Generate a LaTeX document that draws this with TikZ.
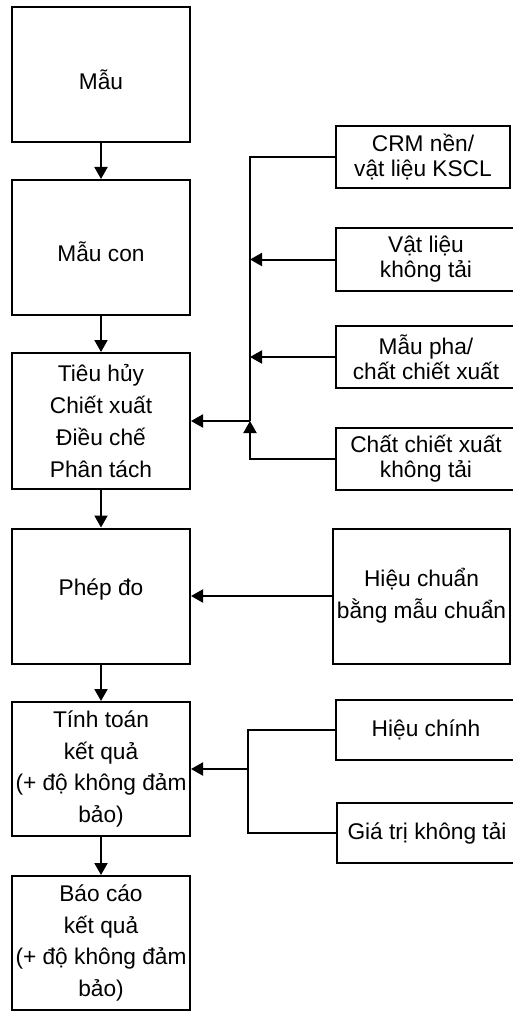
\documentclass[tikz,border=0pt]{standalone}
\usepackage{fontspec}
\setmainfont{Liberation Sans}
\usetikzlibrary{arrows.meta}
\newcommand\wideff{\fontsize{22.7}{31.7}\selectfont}
\newcommand\tightff{\fontsize{22.7}{25}\selectfont}
\newcommand\shiftv[2]{\raisebox{#1}[\height][\depth]{#2}}
\begin{document}
\begin{tikzpicture}[x=1pt,y=-1pt,
  box/.style={draw, line width=2pt, inner sep=0pt, align=center, font=\wideff},
  sbox/.style={box, font=\tightff},
  conn/.style={line width=2pt},
  arr/.style={conn, -{Triangle[width=13pt,length=12pt]}}]
\useasboundingbox (0,0) rectangle (512,1011);
% left column
\node[box, minimum width=178pt, minimum height=135pt] (mau) at (101,74.5) {\shiftv{-5pt}{Mẫu}};
\node[box, minimum width=178pt, minimum height=135pt] (maucon) at (101,247.5) {\shiftv{-4pt}{Mẫu con}};
\node[box, minimum width=178pt, minimum height=136pt] (tieuhuy) at (101,421) {Tiêu hủy\\Chiết xuất\\Điều chế\\Phân tách};
\node[box, minimum width=178pt, minimum height=135pt] (phepdo) at (101,596) {\shiftv{7pt}{Phép đo}};
\node[box, minimum width=178pt, minimum height=134pt] (tinhtoan) at (101,769) {Tính toán\\kết quả\\(+ độ không đảm\\bảo)};
\node[box, minimum width=178pt, minimum height=134pt] (baocao) at (101,943) {Báo cáo\\kết quả\\(+ độ không đảm\\bảo)};
% right column
\node[sbox, minimum width=174pt, minimum height=62pt] (crm) at (423,157) {CRM nền/\\vật liệu KSCL};
\node[sbox, minimum width=180pt, minimum height=63pt] (vatlieu) at (426,259.5) {Vật liệu\\không tải};
\node[sbox, minimum width=180pt, minimum height=62pt] (maupha) at (426,357) {Mẫu pha/\\chất chiết xuất};
\node[sbox, minimum width=180pt, minimum height=62pt] (chatchiet) at (426,459) {Chất chiết xuất\\không tải};
\node[box, minimum width=177pt, minimum height=135pt] (hieuchuan) at (421.5,596) {\raisebox{5pt}{\begin{tabular}{@{}c@{}}Hiệu chuẩn\\bằng mẫu chuẩn\end{tabular}}};
\node[box, minimum width=180pt, minimum height=60pt] (hieuchinh) at (426,730) {Hiệu chính};
\node[box, minimum width=180pt, minimum height=60pt] (giatri) at (427,833) {Giá trị không tải};
% main flow
\draw[arr] (mau) -- (maucon);
\draw[arr] (maucon) -- (tieuhuy);
\draw[arr] (tieuhuy) -- (phepdo);
\draw[arr] (phepdo) -- (tinhtoan);
\draw[arr] (tinhtoan) -- (baocao);
% upper bracket
\coordinate (j) at (250,421);
\draw[conn] (crm.west) -| (j);
\draw[arr] (vatlieu.west) -- (vatlieu.west -| j);
\draw[arr] (maupha.west) -- (maupha.west -| j);
\draw[arr] (chatchiet.west) -| (j);
\draw[arr] (j) -- (j -| tieuhuy.east);
% calibration
\draw[arr] (hieuchuan.west) -- (hieuchuan.west -| phepdo.east);
% lower bracket
\coordinate (k) at (248,769);
\draw[conn] (hieuchinh.west) -| (k);
\draw[conn] (giatri.west) -| (k);
\draw[arr] (k) -- (k -| tinhtoan.east);
\end{tikzpicture}
\end{document}
